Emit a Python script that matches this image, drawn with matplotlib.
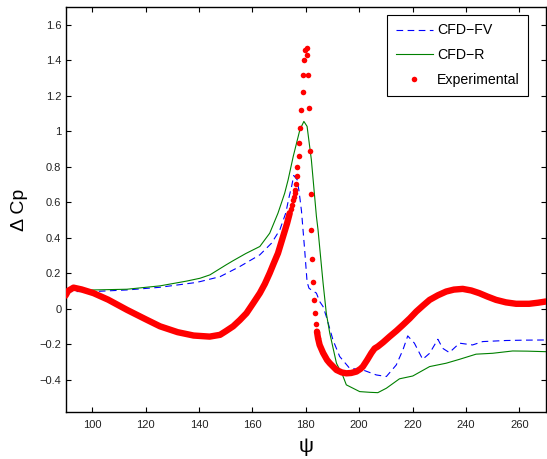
import matplotlib
matplotlib.use("Agg")
import matplotlib.pyplot as plt

plt.rcParams['font.family'] = ['Liberation Sans', 'DejaVu Sans']

# CFD-FV (blue dashed)
fv_x = [90, 100.5, 113, 125.4, 137.9, 140.4, 147.9, 155.3, 162.8, 167.2, 170.3, 172.5, 173.8,
        174.7, 175.5, 176.8, 177.5, 178.4, 179.6, 180.5, 181.2, 182.1, 184, 185.2, 186.5, 187.7,
        190.2, 192.7, 196.4, 201.4, 206.4, 210.2, 213.9, 216.4, 218.2, 220.7, 223.8, 226.4, 229.5,
        231.3, 233.8, 237.6, 242.5, 246.3, 255, 262, 270]
fv_y = [0.096, 0.096, 0.105, 0.12, 0.145, 0.152, 0.18, 0.237, 0.303, 0.369, 0.444, 0.538, 0.632,
        0.688, 0.75, 0.726, 0.66, 0.55, 0.33, 0.15, 0.115, 0.105, 0.087, 0.04, 0.011, -0.045,
        -0.177, -0.27, -0.336, -0.346, -0.374, -0.383, -0.318, -0.233, -0.154, -0.195, -0.286,
        -0.252, -0.173, -0.224, -0.248, -0.195, -0.205, -0.186, -0.18, -0.178, -0.177]

# CFD-R (green solid)
r_x = [90, 100.5, 113, 125.4, 135.4, 140.4, 144.1, 150, 152.8, 157.5, 162.8, 166.5, 169.6,
       172.1, 173.4, 175.3, 177.8, 179.3, 180.5, 182.1, 184, 184.6, 185.9, 186.5, 187.7, 189,
       191.5, 194, 195.2, 200.2, 204, 207, 210.2, 215.1, 220.1, 226.4, 232.6, 237.6, 243.8, 250,
       257.5, 263, 270]
r_y = [0.105, 0.105, 0.109, 0.128, 0.155, 0.171, 0.19, 0.245, 0.27, 0.31, 0.35, 0.425, 0.538,
       0.65, 0.726, 0.857, 1.008, 1.055, 1.027, 0.839, 0.519, 0.444, 0.237, 0.143, -0.026,
       -0.139, -0.308, -0.383, -0.43, -0.468, -0.472, -0.474, -0.449, -0.396, -0.38, -0.327,
       -0.308, -0.286, -0.257, -0.252, -0.239, -0.24, -0.243]

# Experimental: densely sampled stretches
exp_dense_a_x = [90, 91, 93, 96, 100.5, 106, 113, 120, 125.4, 132, 138, 144, 147.9, 150,
                 152.8, 155.3, 157.8, 160.3, 162.8, 164.7, 166.5, 168, 169.6, 171.5, 173, 174]
exp_dense_a_y = [0.073, 0.10, 0.118, 0.108, 0.087, 0.05, -0.007, -0.06, -0.10, -0.133, -0.152,
                 -0.158, -0.148, -0.128, -0.10, -0.065, -0.026, 0.03, 0.087, 0.14, 0.2, 0.255,
                 0.312, 0.406, 0.48, 0.538]
exp_dense_b_x = [184.2, 184.6, 185.2, 186.5, 188, 189, 191.5, 193.5, 195.2, 197, 199, 200.5,
                 201.4, 203, 204.6, 205.8, 207, 209, 211.4, 214, 216.4, 219, 221.4, 224, 226.4,
                 229.5, 232.6, 235.5, 238.8, 242, 245, 248, 251.3, 255, 258.8, 263.7, 267, 270]
exp_dense_b_y = [-0.13, -0.167, -0.205, -0.25, -0.29, -0.308, -0.346, -0.36, -0.365, -0.363,
                 -0.355, -0.34, -0.327, -0.29, -0.25, -0.225, -0.214, -0.19, -0.158, -0.125,
                 -0.092, -0.055, -0.017, 0.018, 0.049, 0.075, 0.096, 0.107, 0.111, 0.102, 0.087,
                 0.068, 0.049, 0.035, 0.027, 0.027, 0.033, 0.04]
# Experimental: sparse points around the suction peak
exp_pts_x = [174.5, 175.0, 175.3, 175.6, 175.9, 176.0, 176.3, 176.6, 176.9, 177.3, 177.6, 178.0,
             178.2, 178.8, 179.0, 179.4, 179.9, 180.3, 180.5, 180.9, 181.1, 181.5, 181.9, 182.1,
             182.5, 182.8, 183.2, 183.5, 183.8, 184.2, 184.6]
exp_pts_y = [0.56, 0.585, 0.61, 0.63, 0.65, 0.67, 0.70, 0.745, 0.80, 0.86, 0.936, 1.02, 1.117,
             1.22, 1.318, 1.40, 1.455, 1.469, 1.43, 1.318, 1.13, 0.89, 0.647, 0.444, 0.277,
             0.147, 0.049, -0.026, -0.086, -0.13, -0.167]

x_ticks = [100, 120, 140, 160, 180, 200, 220, 240, 260]
y_ticks = [-0.4, -0.2, 0, 0.2, 0.4, 0.6, 0.8, 1, 1.2, 1.4, 1.6]
y_tick_labels = ['\u22120.4', '\u22120.2', '0', '0.2', '0.4', '0.6', '0.8', '1', '1.2', '1.4', '1.6']

fig = plt.figure(figsize=(5.47, 4.59), dpi=100)
ax = fig.add_axes([65.5 / 547, 1 - 412 / 459, (546 - 65.5) / 547, (412 - 7) / 459])

red = '#ff0000'
ax.plot(fv_x, fv_y, color='#0000ff', lw=0.8, dashes=(6, 4), label='CFD\u2212FV', zorder=2)
ax.plot(r_x, r_y, color='#008000', lw=0.8, label='CFD\u2212R', zorder=2)
ax.plot(exp_dense_a_x, exp_dense_a_y, color=red, lw=4.6, solid_capstyle='round',
        solid_joinstyle='round', zorder=3)
ax.plot(exp_dense_b_x, exp_dense_b_y, color=red, lw=4.6, solid_capstyle='round',
        solid_joinstyle='round', zorder=3)
ax.plot(exp_pts_x, exp_pts_y, ls='none', marker='o', ms=4, mew=0, color=red,
        label='Experimental', zorder=3)

ax.set_xlim(90, 270)
ax.set_ylim(-0.583, 1.70)
ax.set_xticks(x_ticks)
ax.set_xticklabels([str(t) for t in x_ticks])
ax.set_yticks(y_ticks)
ax.set_yticklabels(y_tick_labels)
ax.tick_params(direction='in', length=3.5, width=0.8, labelsize=8, top=True, right=True,
               colors='black', labelcolor='#222222')
ax.tick_params(axis='x', pad=6)
ax.tick_params(axis='y', pad=3)
for s in ax.spines.values():
    s.set_linewidth(1.0)

ax.set_xlabel('\u03c8', fontsize=15)
ax.set_ylabel('\u0394 Cp', fontsize=14)
ax.xaxis.set_label_coords(0.5, -0.062)
ax.yaxis.set_label_coords(-0.079, 0.5)

leg = ax.legend(loc='upper right', bbox_to_anchor=(528 / 547, 1 - 15 / 459),
                bbox_transform=fig.transFigure, borderaxespad=0, fontsize=10.2,
                fancybox=False, framealpha=1, edgecolor='black', handlelength=2.6,
                handletextpad=0.3, borderpad=0.6, labelspacing=0.76, markerscale=1.0)
leg.get_frame().set_linewidth(0.8)

fig.savefig('out.png', dpi=100)
